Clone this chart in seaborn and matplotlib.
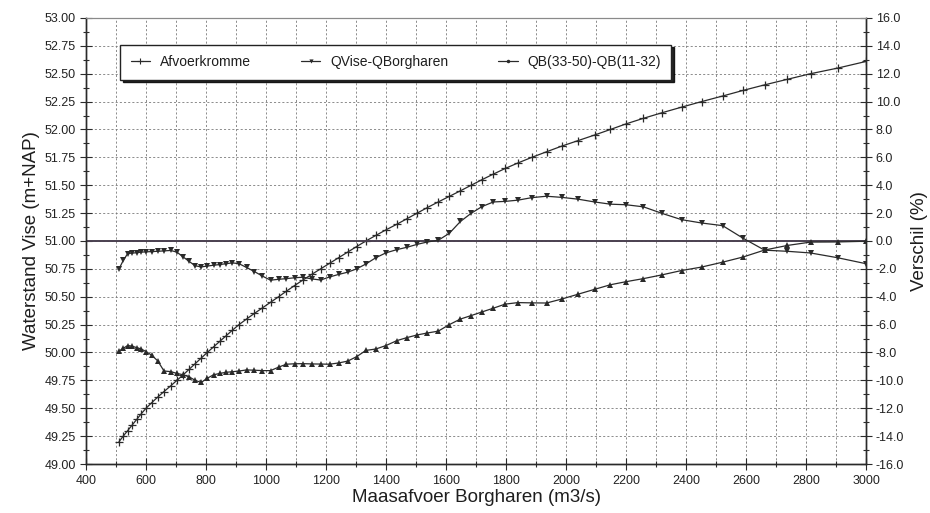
import matplotlib
matplotlib.use("Agg")
import matplotlib.pyplot as plt
from matplotlib.ticker import MultipleLocator, FormatStrFormatter
from matplotlib.lines import Line2D
import pandas as pd
import seaborn as sns

# Discharge at Borgharen (m3/s) for each computed level of the rating curve
discharge = [510, 524, 539, 554, 569, 584, 600, 619, 639, 660,
             682, 703, 724, 744, 764, 784, 804, 825, 846, 867,
             888, 910, 935, 961, 988, 1015, 1042, 1068, 1095, 1123,
             1152, 1182, 1212, 1242, 1272, 1302, 1333, 1366, 1400, 1436,
             1470, 1504, 1538, 1574, 1611, 1648, 1684, 1720, 1758, 1797,
             1840, 1886, 1935, 1985, 2040, 2095, 2148, 2200, 2258, 2320,
             2385, 2452, 2522, 2590, 2662, 2738, 2815, 2905, 3000]

# Water level at Vise (m+NAP)
level = [49.20, 49.25, 49.30, 49.35, 49.40, 49.45, 49.50, 49.55, 49.60, 49.65,
         49.70, 49.75, 49.80, 49.85, 49.90, 49.95, 50.00, 50.05, 50.10, 50.15,
         50.20, 50.25, 50.30, 50.35, 50.40, 50.45, 50.50, 50.55, 50.60, 50.65,
         50.70, 50.75, 50.80, 50.85, 50.90, 50.95, 51.00, 51.05, 51.10, 51.15,
         51.20, 51.25, 51.30, 51.35, 51.40, 51.45, 51.50, 51.55, 51.60, 51.65,
         51.70, 51.75, 51.80, 51.85, 51.90, 51.95, 52.00, 52.05, 52.10, 52.15,
         52.20, 52.25, 52.30, 52.35, 52.40, 52.45, 52.50, 52.55, 52.61]

# Difference QVise - QBorgharen (%)
diff_vise = [-2.0, -1.4, -0.9, -0.87, -0.84, -0.8, -0.78, -0.76, -0.74, -0.71,
             -0.68, -0.8, -1.15, -1.47, -1.78, -1.86, -1.8, -1.74, -1.69, -1.63,
             -1.57, -1.63, -1.9, -2.19, -2.52, -2.81, -2.75, -2.7, -2.64, -2.6,
             -2.72, -2.8, -2.58, -2.4, -2.24, -2.0, -1.65, -1.2, -0.85, -0.62,
             -0.45, -0.24, -0.07, 0.05, 0.55, 1.4, 1.99, 2.47, 2.8, 2.84,
             2.93, 3.11, 3.21, 3.13, 3.0, 2.8, 2.64, 2.6, 2.45, 1.98,
             1.53, 1.29, 1.1, 0.2, -0.66, -0.74, -0.86, -1.2, -1.63]

# Difference QB(33-50) - QB(11-32) (%)
diff_qb = [-7.9, -7.7, -7.5, -7.55, -7.65, -7.75, -7.93, -8.2, -8.6, -9.33,
           -9.37, -9.5, -9.6, -9.75, -10.0, -10.15, -9.85, -9.6, -9.5, -9.42,
           -9.38, -9.33, -9.25, -9.27, -9.3, -9.3, -9.05, -8.84, -8.81, -8.8,
           -8.82, -8.83, -8.84, -8.75, -8.62, -8.3, -7.85, -7.75, -7.5, -7.15,
           -6.93, -6.74, -6.6, -6.47, -6.0, -5.6, -5.35, -5.09, -4.82, -4.53,
           -4.42, -4.44, -4.45, -4.17, -3.82, -3.47, -3.14, -2.92, -2.7, -2.43,
           -2.12, -1.87, -1.52, -1.15, -0.65, -0.32, -0.08, -0.07, -0.02]

series_names = ["Afvoerkromme", "QVise-QBorgharen", "QB(33-50)-QB(11-32)"]

sns.set_style("white")
plt.rcParams["font.family"] = ["Liberation Sans", "DejaVu Sans"]

df = pd.DataFrame({"Q": discharge, "h": level, "d1": diff_vise, "d2": diff_qb})

ink = "#2a2a2a"
fig = plt.figure(figsize=(9.3, 5.13), dpi=100)
ax = fig.add_axes([0.0925, 0.0955, 0.8387, 0.8695])
ax2 = ax.twinx()

# grid on the primary axes
ax.set_axisbelow(True)
ax.grid(True, which="both", axis="x", color="#7a7a7a", lw=0.6, ls=(0, (2.5, 2.5)))
ax.grid(True, which="major", axis="y", color="#7a7a7a", lw=0.6, ls=(0, (2.5, 2.5)))

sns.lineplot(data=df, x="Q", y="h", ax=ax, color=ink, lw=0.9, marker="+",
             markersize=5.5, markeredgewidth=0.9, markeredgecolor=ink, sort=False)
ax2.axhline(0, color="#4a4050", lw=1.4, zorder=1)
sns.lineplot(data=df, x="Q", y="d1", ax=ax2, color=ink, lw=0.9, marker="v",
             markersize=3.8, markeredgewidth=0, sort=False)
sns.lineplot(data=df, x="Q", y="d2", ax=ax2, color=ink, lw=0.9, marker="^",
             markersize=3.8, markeredgewidth=0, sort=False)

ax.set_xlim(400, 3000)
ax.set_ylim(49.0, 53.0)
ax2.set_ylim(-16.0, 16.0)

ax.xaxis.set_major_locator(MultipleLocator(200))
ax.xaxis.set_minor_locator(MultipleLocator(100))
ax.yaxis.set_major_locator(MultipleLocator(0.25))
ax.yaxis.set_minor_locator(MultipleLocator(0.125))
ax.yaxis.set_major_formatter(FormatStrFormatter("%.2f"))
ax2.yaxis.set_major_locator(MultipleLocator(2.0))
ax2.yaxis.set_minor_locator(MultipleLocator(1.0))
ax2.yaxis.set_major_formatter(FormatStrFormatter("%.1f"))

for a in (ax, ax2):
    a.tick_params(which="major", direction="inout", length=8, width=0.8,
                  color=ink, labelsize=9, labelcolor="#222222")
    a.tick_params(which="minor", direction="inout", length=5, width=0.8, color=ink)
ax.tick_params(axis="y", which="both", left=True, right=False)
ax.tick_params(axis="x", which="both", bottom=True, pad=4)
ax2.tick_params(axis="y", which="both", right=True, left=False, pad=3)

for a in (ax, ax2):
    for side in ("left", "right", "bottom"):
        a.spines[side].set_color(ink)
        a.spines[side].set_linewidth(1.0)
    a.spines["top"].set_color("#8a8a8a")
    a.spines["top"].set_linewidth(0.8)

ax.set_xlabel("Maasafvoer Borgharen (m3/s)", fontsize=13.5, labelpad=1, color="#1e1e1e")
ax.set_ylabel("Waterstand Vise (m+NAP)", fontsize=13.5, labelpad=3, color="#1e1e1e")
ax2.set_ylabel("Verschil (%)", fontsize=13.5, labelpad=5, color="#1e1e1e")

handles = [
    Line2D([], [], color=ink, lw=0.9, marker="+", markersize=4, markeredgewidth=0.8),
    Line2D([], [], color=ink, lw=0.9, marker="v", markersize=3, markeredgewidth=0),
    Line2D([], [], color=ink, lw=0.9, marker=".", markersize=3),
]
leg = ax2.legend(handles, series_names, loc="upper left", bbox_to_anchor=(0.044, 0.94),
                 ncol=3, fontsize=10, frameon=True, fancybox=False,
                 shadow={"color": "black", "alpha": 0.85},
                 handlelength=1.4, handletextpad=0.7, columnspacing=3.6,
                 borderpad=0.75, borderaxespad=0)
leg.get_frame().set_edgecolor("#222222")
leg.get_frame().set_linewidth(1.0)
for t in leg.get_texts():
    t.set_color("#1e1e1e")

fig.savefig("out.png", dpi=100)
